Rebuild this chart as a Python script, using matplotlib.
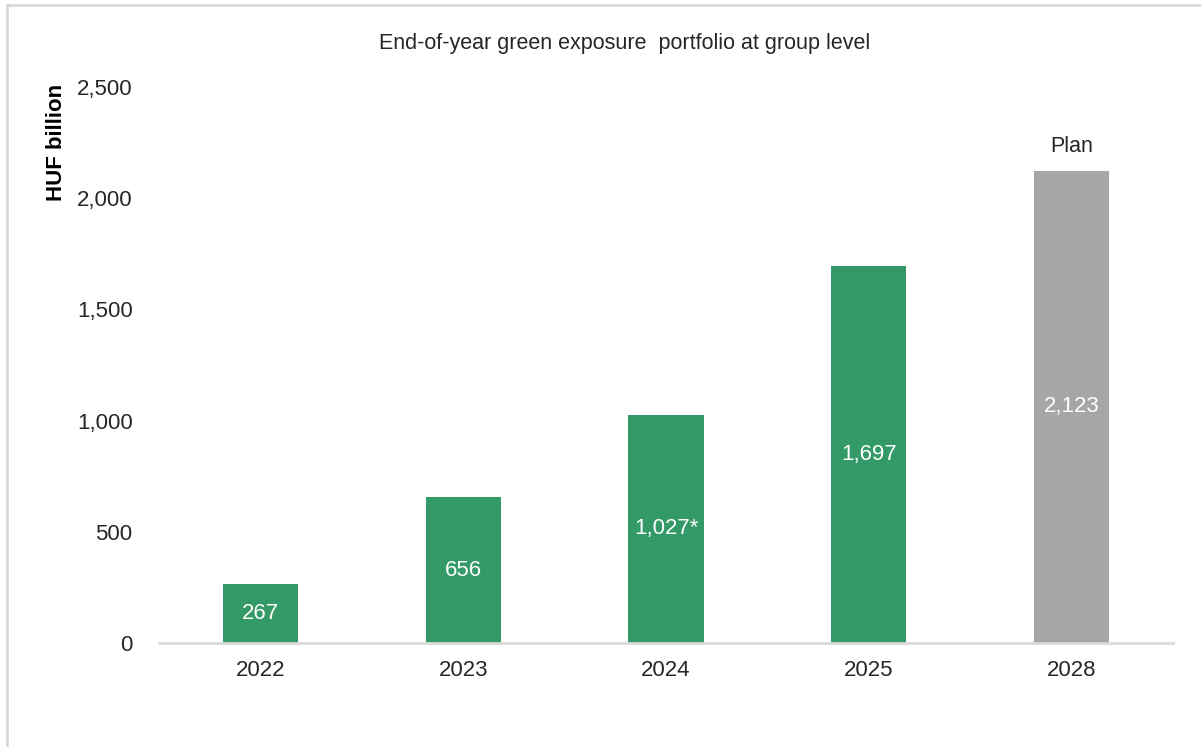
import matplotlib
matplotlib.use("Agg")
import matplotlib.pyplot as plt
from matplotlib.lines import Line2D

plt.rcParams['font.family'] = ['Liberation Sans', 'DejaVu Sans']

years = ['2022', '2023', '2024', '2025', '2028']
values = [267, 656, 1027, 1697, 2123]
labels = ['267', '656', '1,027*', '1,697', '2,123']
is_plan = [False, False, False, False, True]

green = '#339966'
grey = '#a6a6a6'

fig = plt.figure(figsize=(12.01, 7.47), dpi=100)
ax = fig.add_axes([159 / 1201, 104 / 747, (1173 - 159) / 1201, (643 - 87) / 747])

colors = [grey if p else green for p in is_plan]
bars = ax.bar(range(len(years)), values, width=0.37, color=colors)

for b, lab in zip(bars, labels):
    ax.text(b.get_x() + b.get_width() / 2, b.get_height() / 2, lab,
            ha='center', va='center', color='white', fontsize=16)

for b, p in zip(bars, is_plan):
    if p:
        ax.annotate('Plan', (b.get_x() + b.get_width() / 2, b.get_height()),
                    xytext=(0, 10), textcoords='offset points',
                    ha='center', va='bottom', fontsize=15.5, color='#262626')

ax.set_xlim(-0.5, len(years) - 0.5)
ax.set_ylim(0, 2500)
ax.set_xticks(range(len(years)))
ax.set_xticklabels(years)
ax.set_yticks(range(0, 2501, 500))
ax.set_yticklabels(['{:,}'.format(v) for v in range(0, 2501, 500)])
ax.tick_params(axis='both', length=0, labelsize=16, colors='#262626')
ax.tick_params(axis='y', pad=19)
ax.tick_params(axis='x', pad=12)

for s in ['top', 'right', 'left']:
    ax.spines[s].set_visible(False)
ax.spines['bottom'].set_color('#d9d9d9')
ax.spines['bottom'].set_linewidth(2)

fig.text(625 / 1201, 1 - 43 / 747, 'End-of-year green exposure  portfolio at group level',
         ha='center', va='center', fontsize=15.5, color='#262626')
fig.text(57 / 1201, 1 - 84 / 747, 'HUF billion', rotation=90, ha='center', va='top',
         fontsize=16, fontweight='bold', color='black')

# outer frame (left and top edges)
fig.add_artist(Line2D([7 / 1201, 7 / 1201], [0, 1 - 5 / 747], color='#d9d9d9', lw=2,
                      transform=fig.transFigure))
fig.add_artist(Line2D([7 / 1201, 1], [1 - 5 / 747, 1 - 5 / 747], color='#d9d9d9', lw=2,
                      transform=fig.transFigure))

fig.savefig('out.png', dpi=100)
